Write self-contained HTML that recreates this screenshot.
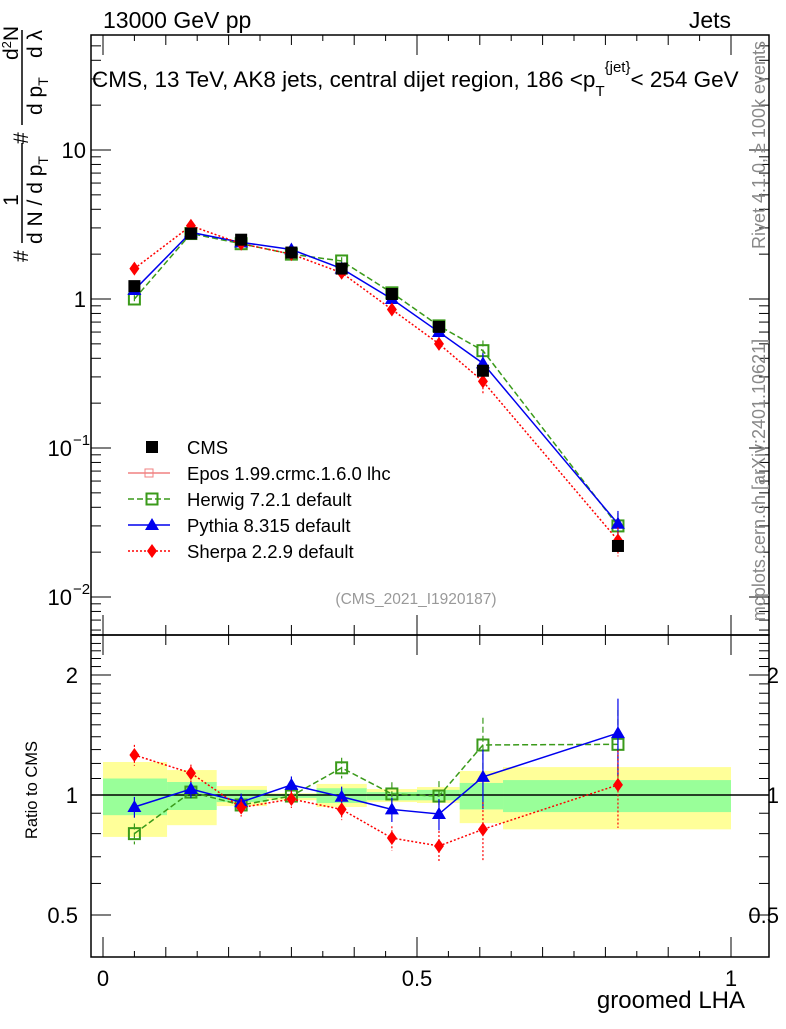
<!DOCTYPE html>
<html><head><meta charset="utf-8"><style>
body{margin:0;background:#fff}
svg{font-family:"Liberation Sans",sans-serif}
</style></head><body>
<svg id="c" width="786" height="1024" xmlns="http://www.w3.org/2000/svg">
<g id="bands"></g>
<g id="axes"></g>
<g id="marks"></g>
<text x="103" y="28" font-size="23">13000 GeV pp</text>
<text x="731" y="28" font-size="23" text-anchor="end">Jets</text>
<text x="92" y="87" font-size="22.5">CMS, 13 TeV, AK8 jets, central dijet region, 186 &lt;p<tspan font-size="15" dy="9">T</tspan><tspan font-size="15" dy="-24">{jet}</tspan><tspan dy="15">&lt; 254 GeV</tspan></text>
<text x="416" y="604" font-size="15.5" fill="#999" text-anchor="middle">(CMS_2021_I1920187)</text>
<text transform="translate(765,145) rotate(-90)" font-size="18" fill="#888" text-anchor="middle">Rivet 4.1.0, ≥ 100k events</text>
<text transform="translate(765,480) rotate(-90)" font-size="18" fill="#888" text-anchor="middle">mcplots.cern.ch [arXiv:2401.10621]</text>
<g font-size="21">
<text transform="translate(18,200) rotate(-90)" text-anchor="middle">1</text>
<text transform="translate(42,200) rotate(-90)" text-anchor="middle">d N / d p<tspan font-size="14" dy="6">T</tspan></text>
<text transform="translate(28,262) rotate(-90)">#</text>
<text transform="translate(28,144) rotate(-90)">#</text>
<line x1="22" y1="30" x2="22" y2="125" stroke="#000" stroke-width="1.5"/>
<line x1="22" y1="143" x2="22" y2="243" stroke="#000" stroke-width="1.5"/>
<text transform="translate(18,60) rotate(-90)">d<tspan font-size="13" dy="-7">2</tspan><tspan dy="7">N</tspan></text>
<text transform="translate(42,115) rotate(-90)">d p<tspan font-size="14" dy="6">T</tspan></text>
<text transform="translate(42,58) rotate(-90)">d λ</text>
</g>
<text transform="translate(37,790) rotate(-90)" font-size="16.5" text-anchor="middle">Ratio to CMS</text>
<text x="745" y="1008" font-size="24" text-anchor="end">groomed LHA</text>
<g id="legend"></g>
</svg>
<script>
const categories=[0.05,0.14,0.22,0.30,0.38,0.46,0.535,0.605,0.82];
const binEdges=[0,0.102,0.181,0.261,0.34,0.42,0.5,0.568,0.637,1.0];
const cmsValues=[1.22,2.75,2.5,2.05,1.6,1.08,0.65,0.33,0.022];
const herwigValues=[1.0,2.75,2.35,2.0,1.8,1.1,0.66,0.45,0.03];
const pythiaValues=[1.15,2.8,2.4,2.15,1.6,1.0,0.6,0.37,0.031];
const sherpaValues=[1.6,3.1,2.35,2.0,1.5,0.85,0.5,0.28,0.024];
const herwigRatio=[0.80,1.017,0.944,0.994,1.17,1.006,0.994,1.335,1.34];
const pythiaRatio=[0.933,1.035,0.96,1.06,0.99,0.92,0.896,1.11,1.43];
const sherpaRatio=[1.26,1.135,0.93,0.977,0.92,0.78,0.745,0.82,1.06];
const ratioErr=[0.06,0.05,0.05,0.05,0.06,0.07,0.09,0.17,0.22];
const yellowUp=[1.21,1.155,1.053,1.01,1.066,1.035,1.047,1.149,1.175];
const yellowDown=[0.785,0.84,0.938,0.97,0.933,0.96,0.955,0.85,0.82];
const greenUp=[1.10,1.078,1.03,1.006,1.04,1.017,1.03,1.072,1.09];
const greenDown=[0.89,0.917,0.96,0.983,0.955,0.97,0.97,0.92,0.906];
const yTickLabels=["10","1","10","10"];
const xTickLabels=["0","0.5","1"];
const ratioTickLabels=["2","1","0.5"];

const NS="http://www.w3.org/2000/svg";
const L=91,R=769,T=35,MID=635,B=957;
const X=v=>103+v*628;
const Y=v=>299-149*Math.log10(v);
const YR=v=>795-120*Math.log2(v);
function mk(tag,attrs,parent){const e=document.createElementNS(NS,tag);for(const k in attrs)e.setAttribute(k,attrs[k]);document.getElementById(parent).appendChild(e);return e;}

binEdges.slice(0,-1).forEach((e,i)=>{
  const a=X(e),b=X(binEdges[i+1]);
  const y=mk('rect',{x:a,y:YR(yellowUp[i]),width:b-a,height:YR(yellowDown[i])-YR(yellowUp[i]),fill:'#ffff99'},'bands');
  
  
  const g=mk('rect',{x:a,y:YR(greenUp[i]),width:b-a,height:YR(greenDown[i])-YR(greenUp[i]),fill:'#99ff99'},'bands');
  
  
});

const f1=mk('rect',{x:L,y:T,width:R-L,height:MID-T,fill:'none',stroke:'#000','stroke-width':1.5},'axes');


const f2=mk('rect',{x:L,y:MID,width:R-L,height:B-MID,fill:'none',stroke:'#000','stroke-width':1.5},'axes');


mk('line',{x1:L,x2:R,y1:YR(1),y2:YR(1),stroke:'#000','stroke-width':1.5},'axes');
for(let d=-3;d<=1;d++){for(let m=1;m<10;m++){const v=m*Math.pow(10,d);const y=Y(v);if(y<T||y>MID)continue;const len=m===1?20:10;
mk('line',{x1:L,x2:L+len,y1:y,y2:y,stroke:'#000'},'axes');mk('line',{x1:R,x2:R-len,y1:y,y2:y,stroke:'#000'},'axes');}}
const yl=[[10,""],[1,""],[0.1,"−1"],[0.01,"−2"]];
yl.forEach((p,i)=>{const t=mk('text',{x:i<2?86:72,y:Y(p[0])+8,'font-size':22,'text-anchor':'end'},'axes');t.textContent=yTickLabels[i];


if(p[1]){const s=mk('text',{x:73,y:Y(p[0])-3,'font-size':15},'axes');s.textContent=p[1];}});
for(let k=5;k<=24;k++){const v=k/10;const y=YR(v);if(y<MID||y>B)continue;const len=(k===5||k===10||k===20)?20:10;
mk('line',{x1:L,x2:L+len,y1:y,y2:y,stroke:'#000'},'axes');mk('line',{x1:R,x2:R-len,y1:y,y2:y,stroke:'#000'},'axes');}
[2,1,0.5].forEach((v,i)=>{const t=mk('text',{x:78,y:YR(v)+8,'font-size':22,'text-anchor':'end'},'axes');t.textContent=ratioTickLabels[i];


const t2=mk('text',{x:779,y:YR(v)+8,'font-size':22,'text-anchor':'end'},'axes');t2.textContent=ratioTickLabels[i];});
for(let k=0;k<=10;k++){const v=k/10;const x=X(v);const len=(k%5===0)?20:10;
[[T,1],[MID,1],[MID,-1],[B,-1]].forEach(p=>mk('line',{x1:x,x2:x,y1:p[0],y2:p[0]+p[1]*len,stroke:'#000'},'axes'));}
for(let k=0;k<10;k++){const x=X(k/10+0.05);[[T,1],[B,-1]].forEach(p=>mk('line',{x1:x,x2:x,y1:p[0],y2:p[0]+p[1]*6,stroke:'#000'},'axes'));}
[0,0.5,1].forEach((v,i)=>{const t=mk('text',{x:X(v),y:986,'font-size':22,'text-anchor':'middle'},'axes');t.textContent=xTickLabels[i];

});

function marker(type,x,y,color,parent){
  if(type==='sq') return mk('rect',{x:x-6,y:y-6,width:12,height:12,fill:'#000'},parent);
  if(type==='osq') return mk('rect',{x:x-5.5,y:y-5.5,width:11,height:11,fill:'none',stroke:color,'stroke-width':2},parent);
  if(type==='tri') return mk('polygon',{points:`${x},${y-7} ${x-7},${y+5} ${x+7},${y+5}`,fill:color},parent);
  if(type==='dia') return mk('polygon',{points:`${x},${y-7} ${x-5},${y} ${x},${y+7} ${x+5},${y}`,fill:color},parent);
}
function series(vals,yf,type,color,dash,name,errs){
  const pts=categories.map((c,i)=>X(c)+','+yf(vals[i])).join(' ');
  const pl=mk('polyline',{points:pts,fill:'none',stroke:color,'stroke-width':1.5,'stroke-dasharray':dash},'marks');
  
  
  categories.forEach((c,i)=>{
    if(errs){const e=errs[i];mk('line',{x1:X(c),x2:X(c),y1:yf(vals[i]*(1+e)),y2:yf(vals[i]*(1-e)),stroke:color,'stroke-width':1.2,'stroke-dasharray':dash},'marks');}
    const m=marker(type,X(c),yf(vals[i]),color,'marks');
    
    
  });
}
series(herwigValues,Y,'osq','#3a9a1a','6,3','herwig',ratioErr);
series(pythiaValues,Y,'tri','#0000ee','','pythia',ratioErr);
series(sherpaValues,Y,'dia','#ff0000','2,2','sherpa',ratioErr);
categories.forEach((c,i)=>{const m=marker('sq',X(c),Y(cmsValues[i]),'#000','marks');

});
series(herwigRatio,YR,'osq','#3a9a1a','6,3','herwig-ratio',ratioErr);
series(pythiaRatio,YR,'tri','#0000ee','','pythia-ratio',ratioErr);
series(sherpaRatio,YR,'dia','#ff0000','2,2','sherpa-ratio',ratioErr);

const leg=[['sq','#000','','CMS'],['epos','#f08080','','Epos 1.99.crmc.1.6.0 lhc'],['osq','#3a9a1a','6,3','Herwig 7.2.1 default'],['tri','#0000ee','','Pythia 8.315 default'],['dia','#ff0000','2,2','Sherpa 2.2.9 default']];
leg.forEach((l,i)=>{const y=447+i*26;
  if(i>0)mk('line',{x1:128,x2:170,y1:y,y2:y,stroke:l[1],'stroke-width':1.5,'stroke-dasharray':l[2]},'legend');
  if(l[0]==='epos'){mk('rect',{x:145,y:y-4,width:8,height:8,fill:'none',stroke:l[1]},'legend');}
  else marker(l[0],152,y,l[1],'legend');
  const t=mk('text',{x:187,y:y+7,'font-size':18.5},'legend');t.textContent=l[3];
  
  
});
</script>
</body></html>
